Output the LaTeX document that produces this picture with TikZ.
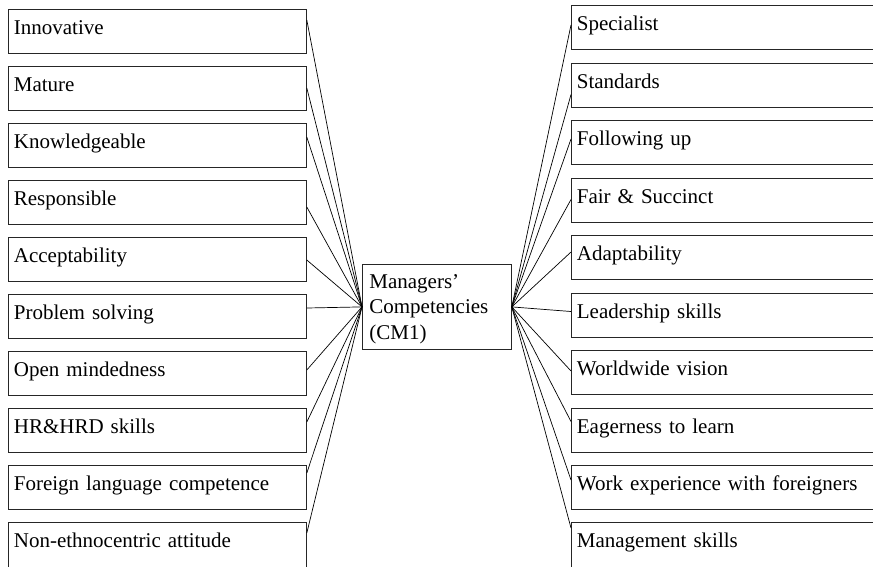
\documentclass[tikz,border=0pt]{standalone}
\usepackage{fontspec}
\setmainfont{Liberation Serif}
\usetikzlibrary{calc}
\begin{document}
\begin{tikzpicture}[x=1pt,y=-1pt,
  item/.style={draw=black!85, line width=0.8pt, anchor=north west, inner xsep=5.5pt, inner ysep=0pt,
    text height=25.5pt, text depth=18.5pt, font=\fontsize{21}{25.5}\selectfont, align=left},
  litem/.style={item, text width=287pt},
  ritem/.style={item, text width=320pt},
  cutoff/.style={text depth=40pt},
  link/.style={line width=0.7pt}]
\useasboundingbox (0,0) rectangle (873,566);
\clip (0,0) rectangle (873,566);
% left column
\node[litem] (l1)  at (8,9)   {Innovative};
\node[litem] (l2)  at (8,66)  {Mature};
\node[litem] (l3)  at (8,123) {Knowledgeable};
\node[litem] (l4)  at (8,180) {Responsible};
\node[litem] (l5)  at (8,237) {Acceptability};
\node[litem] (l6)  at (8,294) {Problem solving};
\node[litem] (l7)  at (8,351) {Open mindedness};
\node[litem] (l8)  at (8,408) {HR\&HRD skills};
\node[litem] (l9)  at (8,465) {Foreign language competence};
\node[litem,cutoff] (l10) at (8,522) {Non-ethnocentric attitude};
% right column
\node[ritem] (r1)  at (571,5)     {Specialist};
\node[ritem] (r2)  at (571,62.5)  {Standards};
\node[ritem] (r3)  at (571,120)   {Following up};
\node[ritem] (r4)  at (571,177.5) {Fair \& Succinct};
\node[ritem] (r5)  at (571,235)   {Adaptability};
\node[ritem] (r6)  at (571,292.5) {Leadership skills};
\node[ritem] (r7)  at (571,350)   {Worldwide vision};
\node[ritem] (r8)  at (571,407.5) {Eagerness to learn};
\node[ritem] (r9)  at (571,465)   {Work experience with foreigners};
\node[ritem,cutoff] (r10) at (571,522)   {Management skills};
% centre
\node[draw=black!85, line width=0.8pt, anchor=north west, inner xsep=7pt, inner ysep=0pt,
  text width=135pt, align=left, text height=24pt, text depth=61pt,
  font=\fontsize{21}{25.5}\selectfont] (c) at (362,264) {Managers’\\Competencies\\(CM1)};
% connectors
\foreach \i/\d in {1/11,2/22,3/14,4/27,5/23,6/14,7/19,8/14,9/8,10/11}
  \draw[link] ($(l\i.north east)+(0,\d)$) -- (c.west);
\foreach \i/\d in {1/20,2/32,3/19,4/22,5/17,6/19,7/21,8/14,9/15,10/6}
  \draw[link] ($(r\i.north west)+(0,\d)$) -- (c.east);
\end{tikzpicture}
\end{document}
